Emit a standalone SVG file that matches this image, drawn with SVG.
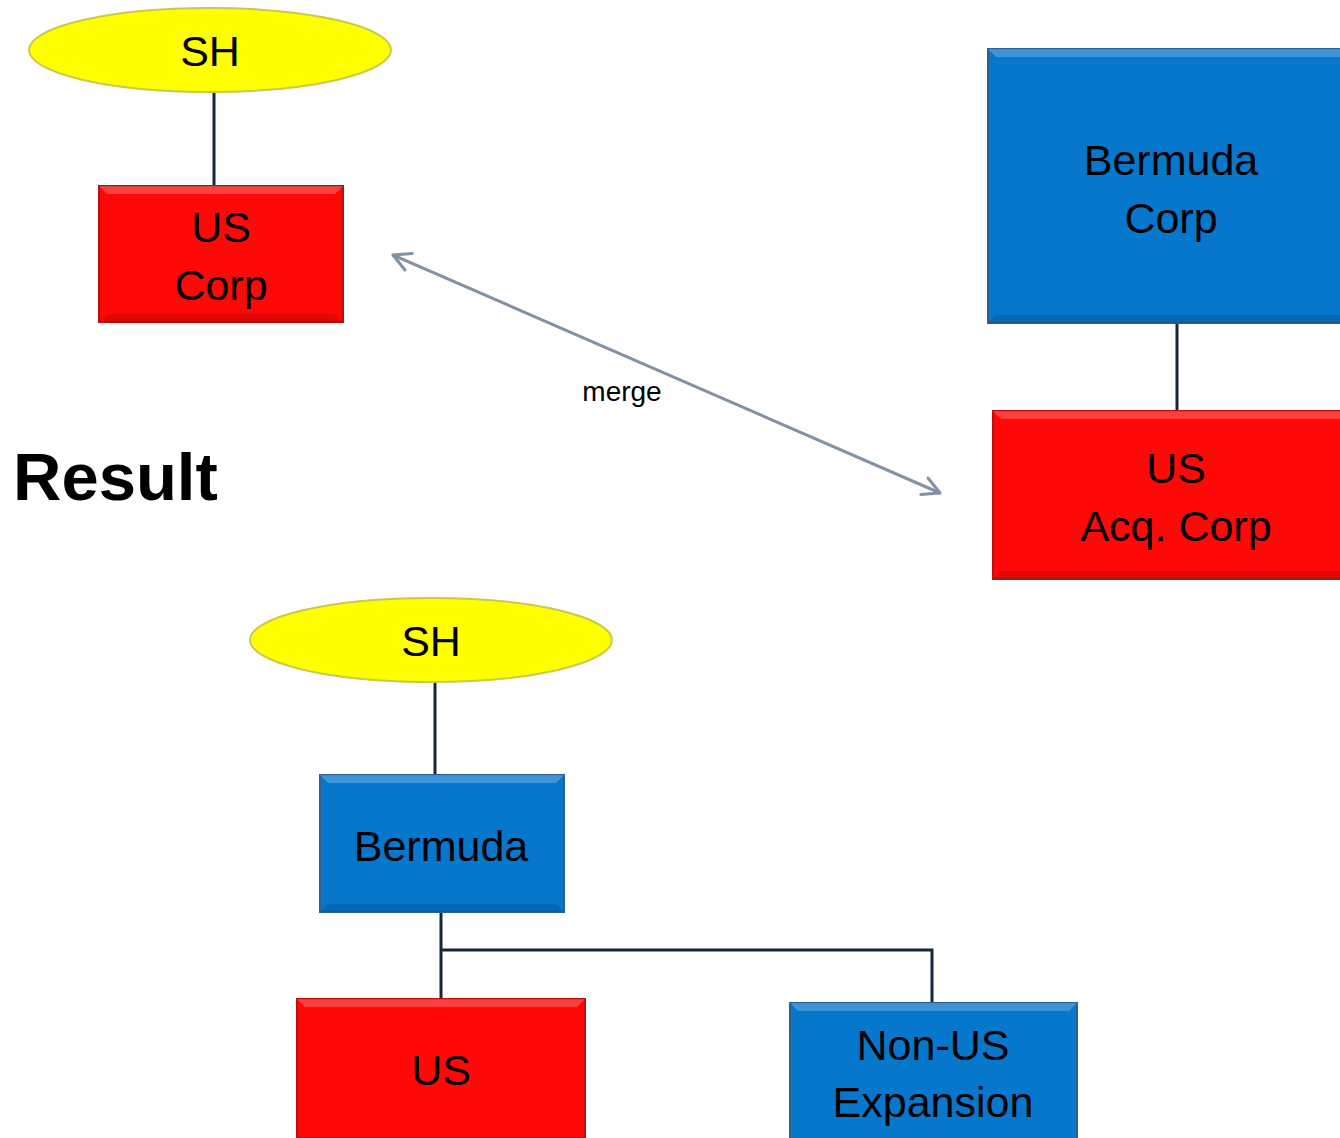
<svg xmlns="http://www.w3.org/2000/svg" width="1340" height="1138" viewBox="0 0 1340 1138">
  <defs>
    <style>
      .lbl { font-family: "Liberation Sans", Arial, sans-serif; font-size: 43px; fill: #000; text-anchor: middle; }
      .blue { fill: #0777cc; stroke: #2f5f90; stroke-width: 2; }
      .red { fill: #ff0808; stroke: #b81010; stroke-width: 2; }
      .sh { fill: #ffff00; stroke: #c9c94a; stroke-width: 2; }
      .hi { fill: #ffffff; opacity: 0.22; }
      .lo { fill: #000000; opacity: 0.12; }
      .wire { fill: none; stroke: #17263f; stroke-width: 3; }
      .merge { fill: none; stroke: #8391a5; stroke-width: 3; }
    </style>
    <marker id="chev" viewBox="0 0 22 22" refX="19" refY="11" markerWidth="22" markerHeight="22" markerUnits="userSpaceOnUse" orient="auto-start-reverse" overflow="visible">
      <path d="M2 2 L19 11 L2 20" fill="none" stroke="#8391a5" stroke-width="3" stroke-linecap="round" stroke-linejoin="round"/>
    </marker>
  </defs>

  <!-- connectors -->
  <g id="connectors">
    <line class="wire" x1="214" y1="92" x2="214" y2="186"/>
    <line class="wire" x1="1177" y1="323" x2="1177" y2="411"/>
    <line class="wire" x1="435" y1="683" x2="435" y2="775"/>
    <polyline class="wire" points="441,912 441,999"/>
    <polyline class="wire" points="441,950 932,950 932,1004"/>
    <line class="merge" x1="393" y1="255" x2="940" y2="493" marker-start="url(#chev)" marker-end="url(#chev)"/>
    <text x="622" y="401" font-family="Liberation Sans, Arial, sans-serif" font-size="28" text-anchor="middle" fill="#000">merge</text>
  </g>

  <!-- before merger -->
  <g id="sh-top">
    <ellipse class="sh" cx="210" cy="50" rx="181" ry="42"/>
    <text class="lbl" x="210" y="66">SH</text>
  </g>

  <g id="us-corp">
    <rect class="red" x="99" y="186" width="244" height="136"/>
    <polygon class="hi" points="99,186 343,186 335,194 107,194"/>
    <polygon class="lo" points="99,322 343,322 335,314 107,314"/>
    <text class="lbl" x="221" y="242">US</text>
    <text class="lbl" x="221" y="300">Corp</text>
  </g>

  <g id="bermuda-corp">
    <rect class="blue" x="988" y="49" width="360" height="274"/>
    <polygon class="hi" points="988,49 1348,49 1340,57 996,57"/>
    <polygon class="lo" points="988,323 1348,323 1340,315 996,315"/>
    <text class="lbl" x="1171" y="175">Bermuda</text>
    <text class="lbl" x="1171" y="233">Corp</text>
  </g>

  <g id="us-acq-corp">
    <rect class="red" x="993" y="411" width="360" height="168"/>
    <polygon class="hi" points="993,411 1353,411 1345,419 1001,419"/>
    <polygon class="lo" points="993,579 1353,579 1345,571 1001,571"/>
    <text class="lbl" x="1176" y="483">US</text>
    <text class="lbl" x="1176" y="541">Acq. Corp</text>
  </g>

  <text id="result-title" x="13" y="500" font-family="Liberation Sans, Arial, sans-serif" font-size="67" font-weight="bold" fill="#000">Result</text>

  <!-- after merger -->
  <g id="sh-bottom">
    <ellipse class="sh" cx="431" cy="640" rx="181" ry="42"/>
    <text class="lbl" x="431" y="656">SH</text>
  </g>

  <g id="bermuda">
    <rect class="blue" x="320" y="775" width="244" height="137"/>
    <polygon class="hi" points="320,775 564,775 556,783 328,783"/>
    <polygon class="lo" points="320,912 564,912 556,904 328,904"/>
    <text class="lbl" x="441" y="861">Bermuda</text>
  </g>

  <g id="us">
    <rect class="red" x="297" y="999" width="288" height="139"/>
    <polygon class="hi" points="297,999 585,999 577,1007 305,1007"/>
    <text class="lbl" x="441" y="1085">US</text>
  </g>

  <g id="non-us-expansion">
    <rect class="blue" x="790" y="1003" width="287" height="137"/>
    <polygon class="hi" points="790,1003 1077,1003 1069,1011 798,1011"/>
    <text class="lbl" x="933" y="1060">Non-US</text>
    <text class="lbl" x="933" y="1117">Expansion</text>
  </g>
</svg>
